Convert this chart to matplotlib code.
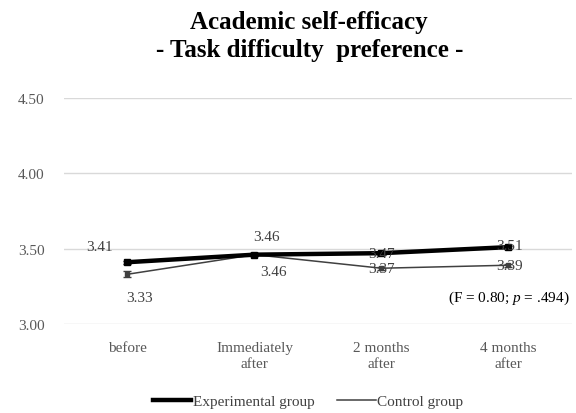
import matplotlib
matplotlib.use("Agg")
import matplotlib.pyplot as plt
from matplotlib.lines import Line2D

plt.rcParams["font.family"] = ["Liberation Serif", "DejaVu Serif"]
plt.rcParams["mathtext.fontset"] = "custom"
plt.rcParams["mathtext.rm"] = "Liberation Serif"
plt.rcParams["mathtext.it"] = "Liberation Serif:italic"

# 数据
categories = ["before", "Immediately\nafter", "2 months\nafter", "4 months\nafter"]
exp_vals = [3.41, 3.46, 3.47, 3.51]
ctl_vals = [3.33, 3.46, 3.37, 3.39]
exp_err = [0.01, 0.01, 0.01, 0.01]
ctl_err = [0.02, 0.01, 0.01, 0.01]
y_ticks = [3.00, 3.50, 4.00, 4.50]

GRID = "#d9d9d9"
TICK = "#595959"

fig = plt.figure(figsize=(5.76, 4.14), dpi=100)
ax = fig.add_axes([0.111, 0.215, 0.882, 0.546])

x = list(range(len(categories)))
ax.errorbar(x, ctl_vals, yerr=ctl_err, color="#404040", lw=1.1, capsize=3,
            elinewidth=0.8, marker="s", ms=3, zorder=3)
ax.errorbar(x, exp_vals, yerr=exp_err, color="black", lw=3.2, capsize=3,
            elinewidth=0.8, marker="s", ms=4, zorder=4)

# 数据标签（偏移量单位：points，按原图摆放）
exp_off = [(-20, 11), (9, 13), (0, 0), (1, 1)]
ctl_off = [(9, -17), (14, -12), (0, 0), (1, 0)]
lab = dict(fontsize=11, color="#404040", zorder=5, ha="center", va="center",
           textcoords="offset points")
for i in x:
    ax.annotate(f"{exp_vals[i]:.2f}", (x[i], exp_vals[i]), xytext=exp_off[i], **lab)
    ax.annotate(f"{ctl_vals[i]:.2f}", (x[i], ctl_vals[i]), xytext=ctl_off[i], **lab)

ax.text(0.995, 0.12, "(F = 0.80; $\\it{p}$ = .494)", transform=ax.transAxes,
        ha="right", va="center", fontsize=11, color="black")

ax.set_xlim(-0.5, len(categories) - 0.5)
ax.set_ylim(3.0, 4.5)
ax.set_yticks(y_ticks)
ax.set_yticklabels([f"{v:.2f}" for v in y_ticks])
ax.set_xticks(x)
ax.set_xticklabels(categories, linespacing=1.35)
ax.tick_params(axis="both", length=0, labelsize=11, colors=TICK)
ax.tick_params(axis="y", pad=14)
ax.tick_params(axis="x", pad=12)
ax.yaxis.grid(True, color=GRID, lw=1)
ax.set_axisbelow(True)
for s in ax.spines.values():
    s.set_visible(False)

fig.text(0.537, 0.945, "Academic self-efficacy", ha="center", va="center",
         fontsize=18, fontweight="bold")
fig.text(0.537, 0.877, "- Task difficulty  preference -", ha="center",
         va="center", fontsize=18, fontweight="bold")

handles = [Line2D([], [], color="black", lw=3.2),
           Line2D([], [], color="#404040", lw=1.1)]
fig.legend(handles, ["Experimental group", "Control group"], loc="center",
           bbox_to_anchor=(0.535, 0.028), ncol=2, frameon=False, fontsize=11,
           handlelength=2.5, handletextpad=0.1, columnspacing=1.5,
           labelcolor="#404040")

fig.savefig("out.png", dpi=100)
